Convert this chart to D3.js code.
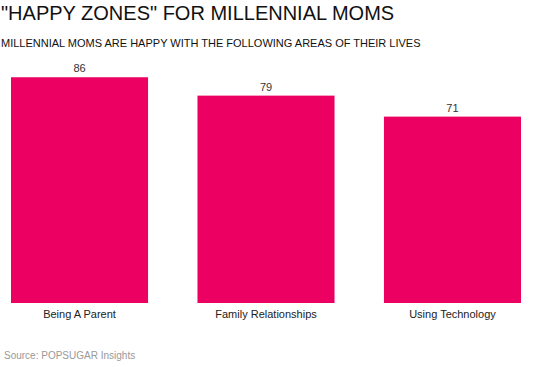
<!DOCTYPE html>
<html><head><meta charset="utf-8">
<script src="https://cdn.jsdelivr.net/npm/d3@7"></script>
<style>body{margin:0;background:#fff;}svg{display:block;font-family:"Liberation Sans",Arial,sans-serif;}</style>
</head><body>
<script>
const categories = ["Being A Parent", "Family Relationships", "Using Technology"];
const values = [86, 79, 71];
const title = "\"HAPPY ZONES\" FOR MILLENNIAL MOMS";
const subtitle = "MILLENNIAL MOMS ARE HAPPY WITH THE FOLLOWING AREAS OF THEIR LIVES";
const source = "Source: POPSUGAR Insights";

const W = 550, H = 367;
const svg = d3.select("body").append("svg").attr("width", W).attr("height", H);

const x = d3.scaleBand().domain(categories).range([11, 521]).paddingInner(0.265).paddingOuter(0);
const y = d3.scaleLinear().domain([0, 100]).range([303, 40.5]);

svg.append("text").attr("x", 1).attr("y", 20).attr("font-size", 20).attr("fill", "#111").text(title);
svg.append("text").attr("x", 1).attr("y", 47).attr("font-size", 11).attr("fill", "#111").text(subtitle);

svg.selectAll("rect.bar").data(values).join("rect").attr("class", "bar")
  .attr("x", (d, i) => x(categories[i])).attr("width", x.bandwidth())
  .attr("y", d => y(d)).attr("height", d => y(0) - y(d)).attr("fill", "#EC0062");

svg.selectAll("text.val").data(values).join("text").attr("class", "val")
  .attr("x", (d, i) => x(categories[i]) + x.bandwidth() / 2).attr("y", d => y(d) - 5)
  .attr("text-anchor", "middle").attr("font-size", 11).attr("fill", "#333").text(d => d);

const xAxis = svg.append("g").attr("transform", "translate(0,303)")
  .call(d3.axisBottom(x).tickSize(0).tickPadding(7));
xAxis.select(".domain").remove();
xAxis.selectAll("text").attr("font-size", 11).attr("fill", "#222").attr("font-family", "Liberation Sans, Arial, sans-serif");

svg.append("text").attr("x", 4).attr("y", 359).attr("font-size", 10).attr("fill", "#999").text(source);
</script>
</body></html>
